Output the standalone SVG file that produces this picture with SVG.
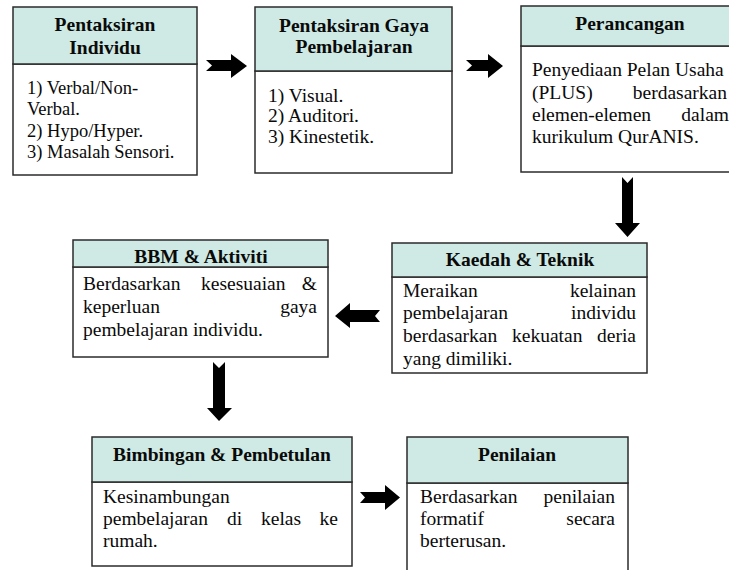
<svg xmlns="http://www.w3.org/2000/svg" width="729" height="570" viewBox="0 0 729 570">
<style>
.hdr{fill:#cfeae4;stroke:#2b2b2b;stroke-width:1.5}
.bd{fill:#ffffff;stroke:#2b2b2b;stroke-width:1.5}
.t{font-family:"Liberation Serif","Times New Roman",serif;font-weight:bold;font-size:19.5px;text-anchor:middle;fill:#0a0a0a}
.b{font-family:"Liberation Serif","Times New Roman",serif;font-size:19.5px;fill:#0a0a0a}
.s{font-size:18.5px}
.e{text-anchor:end}
.ar{fill:#000}
</style>
<rect width="729" height="570" fill="#fff"/>
<g id="n1">
<rect class="bd" x="13" y="64" width="184" height="111"/>
<rect class="hdr" x="13" y="7" width="184" height="57"/>
<text class="t" x="105" y="31">Pentaksiran</text>
<text class="t" x="105" y="54">Individu</text>
<text class="b s" x="27" y="94">1) Verbal/Non-</text>
<text class="b s" x="27" y="115">Verbal.</text>
<text class="b s" x="27" y="137">2) Hypo/Hyper.</text>
<text class="b s" x="27" y="158">3) Masalah Sensori.</text>
</g>
<g id="n2">
<rect class="bd" x="255" y="71" width="197" height="102"/>
<rect class="hdr" x="255" y="7" width="197" height="64"/>
<text class="t" x="354" y="32">Pentaksiran Gaya</text>
<text class="t" x="354" y="53">Pembelajaran</text>
<text class="b" x="268" y="102">1) Visual.</text>
<text class="b" x="268" y="122">2) Auditori.</text>
<text class="b" x="268" y="143">3) Kinestetik.</text>
</g>
<g id="n3">
<rect class="bd" x="521" y="46" width="220" height="126"/>
<rect class="hdr" x="521" y="6" width="220" height="40"/>
<text class="t" x="630" y="30">Perancangan</text>
<text class="b" x="532" y="76">Penyediaan Pelan Usaha</text>
<text class="b" x="532" y="99">(PLUS)</text>
<text class="b e" x="727" y="99">berdasarkan</text>
<text class="b" x="532" y="121">elemen-elemen</text>
<text class="b e" x="729" y="121">dalam</text>
<text class="b" x="532" y="143">kurikulum QurANIS.</text>
</g>
<g id="n4">
<rect class="bd" x="392" y="277" width="255" height="96"/>
<rect class="hdr" x="392" y="243" width="255" height="34"/>
<text class="t" x="520" y="266">Kaedah &amp; Teknik</text>
<text class="b" x="403" y="297">Meraikan</text>
<text class="b e" x="636" y="297">kelainan</text>
<text class="b" x="403" y="319">pembelajaran</text>
<text class="b e" x="636" y="319">individu</text>
<text class="b" x="403" y="342">berdasarkan</text>
<text class="b" x="512" y="342">kekuatan</text>
<text class="b e" x="636" y="342">deria</text>
<text class="b" x="403" y="365">yang dimiliki.</text>
</g>
<g id="n5">
<rect class="bd" x="73" y="267" width="255" height="90"/>
<rect class="hdr" x="73" y="240" width="255" height="27"/>
<text class="t" x="201" y="263">BBM &amp; Aktiviti</text>
<text class="b" x="83" y="290">Berdasarkan</text>
<text class="b" x="201" y="290">kesesuaian</text>
<text class="b e" x="317" y="290">&amp;</text>
<text class="b" x="83" y="313">keperluan</text>
<text class="b e" x="317" y="313">gaya</text>
<text class="b" x="83" y="336">pembelajaran individu.</text>
</g>
<g id="n6">
<rect class="bd" x="92" y="482" width="260" height="84"/>
<rect class="hdr" x="92" y="437" width="260" height="45"/>
<text class="t" x="222" y="461">Bimbingan &amp; Pembetulan</text>
<text class="b" x="103" y="503">Kesinambungan</text>
<text class="b" x="103" y="525">pembelajaran</text>
<text class="b" x="227" y="525">di</text>
<text class="b" x="261" y="525">kelas</text>
<text class="b e" x="338" y="525">ke</text>
<text class="b" x="103" y="547">rumah.</text>
</g>
<g id="n7">
<rect class="bd" x="407" y="483" width="221" height="100"/>
<rect class="hdr" x="407" y="437" width="221" height="46"/>
<text class="t" x="517" y="461">Penilaian</text>
<text class="b" x="420" y="503">Berdasarkan</text>
<text class="b e" x="615" y="503">penilaian</text>
<text class="b" x="420" y="525">formatif</text>
<text class="b e" x="615" y="525">secara</text>
<text class="b" x="420" y="547">berterusan.</text>
</g>
<g id="connectors">
<polygon class="ar" points="206,60 231,60 231,54 247,66 231,78 231,71 206,71 212,65.5"/>
<polygon class="ar" points="466,60 488,60 488,54 503,66 488,78 488,71 466,71 472,65.5"/>
<polygon class="ar" points="622,177 627.5,183 633,177 633,223 640,223 627.5,237 615,223 622,223"/>
<polygon class="ar" points="335,316 350,303 350,310 380,310 375,316 380,322 350,322 350,328"/>
<polygon class="ar" points="213,362 219,368 225,362 225,408 232,408 219,421 207,408 213,408"/>
<polygon class="ar" points="360,492 385,492 385,485 400,497.5 385,510 385,503 360,503 365,497.5"/>
</g>
</svg>
